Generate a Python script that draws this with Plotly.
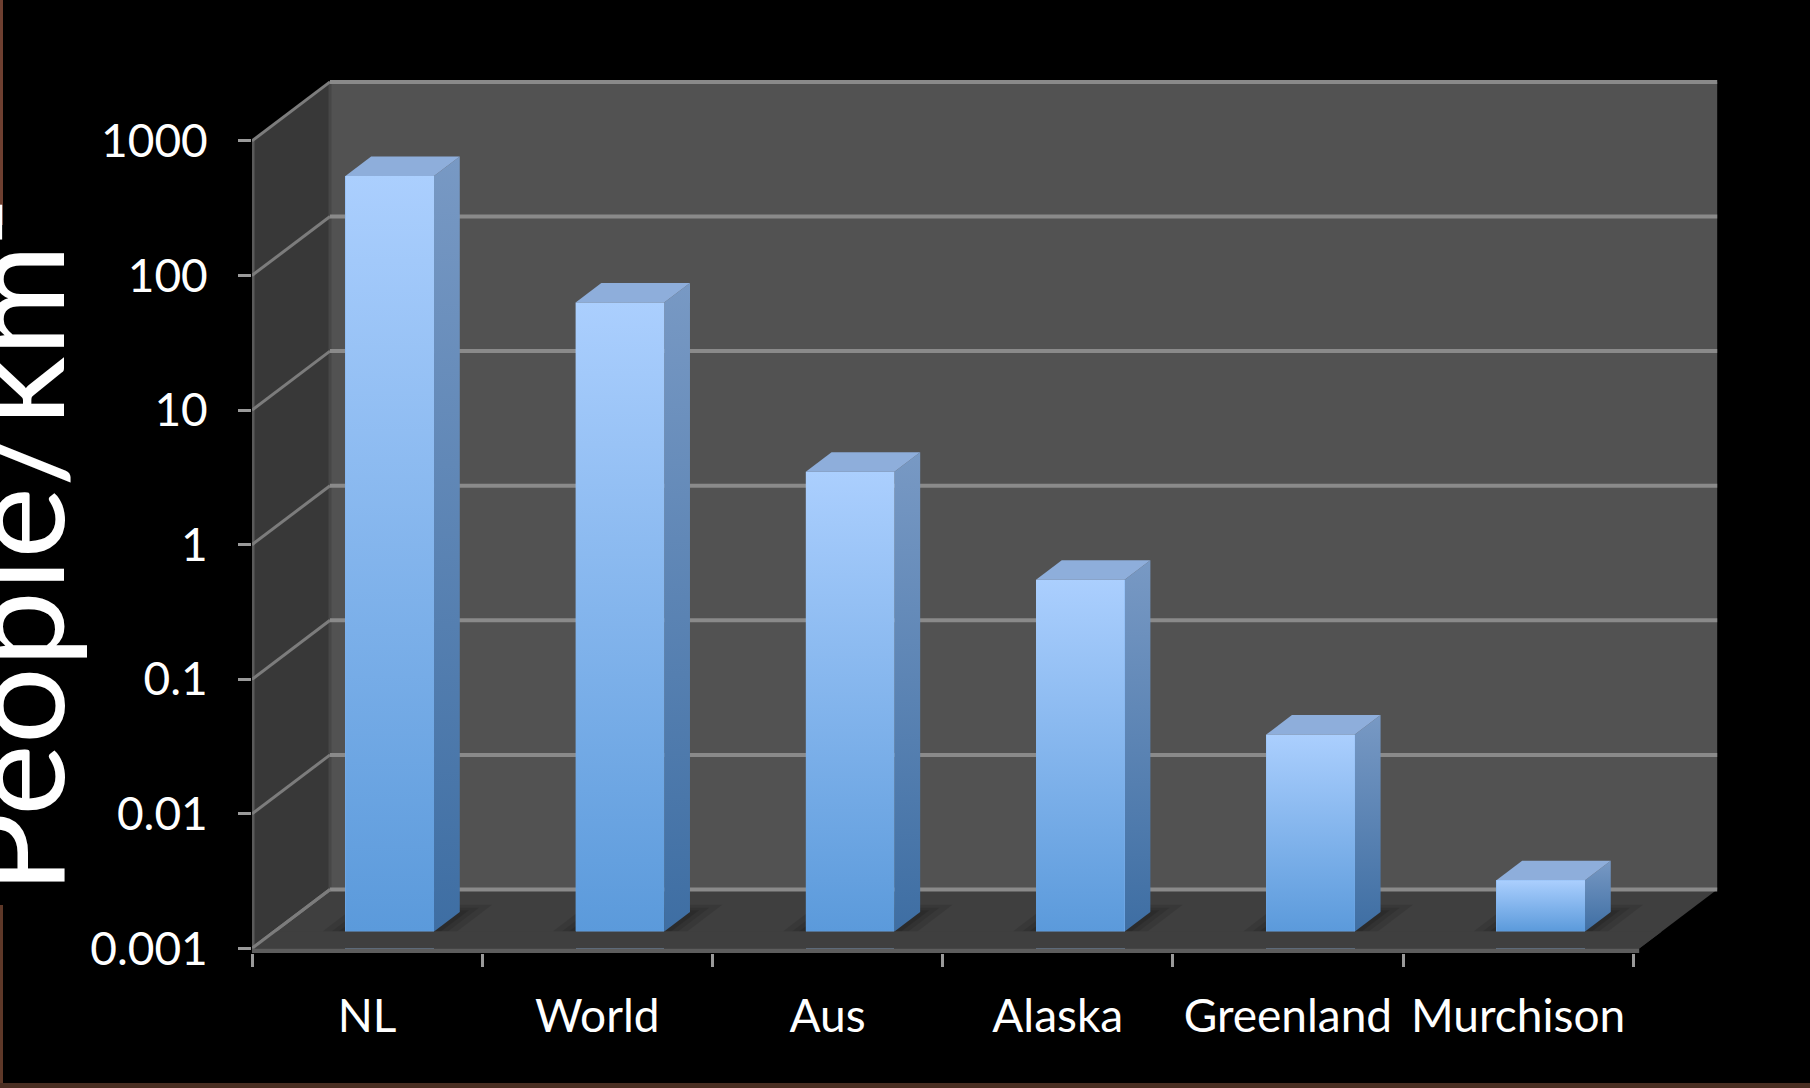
import numpy as np
import plotly.graph_objects as go

# ---------------- data ----------------
categories = ["NL", "World", "Aus", "Alaska", "Greenland", "Murchison"]
density = [410, 47, 2.6, 0.41, 0.029, 0.0024]
tick_values = [0.001, 0.01, 0.1, 1, 10, 100, 1000]
tick_labels = ["0.001", "0.01", "0.1", "1", "10", "100", "1000"]
y_title = "People/km²"

# ---------------- geometry (pixels of the 1810x1088 page) ----------------
W, H = 1810, 1088
PX_L, PX_R, PY_T, PY_B = 252, 1722, 76, 953
CAT_PX = 230.2        # width of one category on the front plane
FLOOR_PY = 948.5      # pixel row of the lowest tick on the front plane
DEC_PX = 134.6        # pixels per decade
DEPTH_DX, DEPTH_DY = 78.0, 59.0   # oblique offset of the back wall

LMIN = np.log10(tick_values[0])
LMAX = np.log10(tick_values[-1])
DXC = DEPTH_DX / CAT_PX
DYD = DEPTH_DY / DEC_PX
XR = [-0.5, -0.5 + (PX_R - PX_L) / CAT_PX]
YR = [LMIN - (PY_B - FLOOR_PY) / DEC_PX, LMIN + (FLOOR_PY - PY_T) / DEC_PX]
N = len(categories)
XEND = N - 0.5 + 6 / CAT_PX

TB, BD, BW = 0.29, 0.33, 0.385   # bar front depth, bar depth, bar width

FONT = "Lato"
BACK, SIDE, FLOOR, SLAB = "#525252", "#383838", "#3f3f3f", "#5d5d5d"
GRID, EDGE, TICK = "#8a8a8a", "#5a5a5a", "#9a9a9a"
FRONT_GRAD = ["#5b9adb", "#abcffe"]
SIDE_GRAD = ["#3e6ea3", "#7899c4"]
TOP_COL = "#8eaedb"


def P(c, L, t):
    """category position c, log value L, depth t -> front-plane data coords"""
    return c + t * DXC, 10 ** (L + t * DYD)


traces = []


def add_poly(pts, color=None, grad=None, z=0):
    xy = [P(*p) for p in pts]
    xs = [a for a, _ in xy] + [xy[0][0]]
    ys = [b for _, b in xy] + [xy[0][1]]
    kw = dict(x=xs, y=ys, mode="lines", fill="toself", line=dict(width=0),
              xaxis="x2", yaxis="y2", hoverinfo="skip", showlegend=False, zorder=z)
    if grad:
        kw["fillgradient"] = dict(type="vertical", colorscale=[[0, grad[0]], [1, grad[1]]])
    else:
        kw["fillcolor"] = color
    traces.append(go.Scatter(**kw))


def add_line(pts, color, width, z=0):
    xy = [P(*p) for p in pts]
    traces.append(go.Scatter(x=[a for a, _ in xy], y=[b for _, b in xy], mode="lines",
                             line=dict(color=color, width=width),
                             xaxis="x2", yaxis="y2", hoverinfo="skip",
                             showlegend=False, zorder=z))


# walls
add_poly([(-0.5, LMIN, 0), (XEND, LMIN, 0), (XEND, LMIN, 1), (-0.5, LMIN, 1)], FLOOR)
add_poly([(-0.5, LMIN, 1), (XEND, LMIN, 1), (XEND, LMAX, 1), (-0.5, LMAX, 1)], BACK)
add_poly([(-0.5, LMIN, 0), (-0.5, LMIN, 1), (-0.5, LMAX, 1), (-0.5, LMAX, 0)], SIDE)
add_line([(-0.5, LMIN, 0), (-0.5, LMAX, 0)], EDGE, 5)
add_line([(-0.5, LMIN, 1), (-0.5, LMAX, 1)], "#474747", 3)
for tv in tick_values:
    L = np.log10(tv)
    add_line([(-0.5, L, 0), (-0.5, L, 1)], "#7c7c7c", 3)
    add_line([(-0.5, L, 1), (XEND, L, 1)], GRID, 4)

# soft shadows on the floor
for i in range(N):
    cl, cr = i - BW / 2, i + BW / 2
    for ex, ed, a in [(0.10, 0.12, 0.10), (0.06, 0.07, 0.10), (0.03, 0.03, 0.12)]:
        add_poly([(cl - ex, LMIN, TB), (cr + ex, LMIN, TB),
                  (cr + ex, LMIN, TB + BD + ed), (cl - ex, LMIN, TB + BD + ed)],
                 f"rgba(0,0,0,{a})", z=1)

# side and top faces of the columns
for i, v in enumerate(density):
    L = np.log10(v)
    cl, cr = i - BW / 2, i + BW / 2
    add_poly([(cr, LMIN, TB), (cr, L, TB), (cr, L, TB + BD), (cr, LMIN, TB + BD)],
             grad=SIDE_GRAD, z=2)
    add_poly([(cl, L, TB), (cr, L, TB), (cr, L, TB + BD), (cl, L, TB + BD)],
             TOP_COL, z=2)

# the bars themselves (bar plane axes)
traces.append(go.Bar(x=categories, y=density, xaxis="x", yaxis="y",
                     width=BW, offset=-BW / 2 + TB * DXC,
                     marker=dict(color="#7fb2ee", line=dict(width=0)),
                     showlegend=False, zorder=3))

# gradient shading on the front faces
for i, v in enumerate(density):
    L = np.log10(v)
    cl, cr = i - BW / 2, i + BW / 2
    add_poly([(cl, LMIN, TB), (cr, LMIN, TB), (cr, L, TB), (cl, L, TB)],
             grad=FRONT_GRAD, z=4)

# floor in front of the columns and the floor slab edge
add_poly([(-0.5, LMIN, 0), (XEND, LMIN, 0), (XEND, LMIN, TB), (-0.5, LMIN, TB)], FLOOR, z=5)
add_line([(-0.5, LMIN, 0), (-0.5, LMIN, 1)], "#7c7c7c", 3, z=5)
s = 7 / DEC_PX
add_poly([(-0.5, LMIN - s, 0), (XEND, LMIN - s, 0), (XEND, LMIN, 0), (-0.5, LMIN, 0)], SLAB, z=5)

fig = go.Figure(traces)

fig.update_layout(
    width=W, height=H, template="none",
    paper_bgcolor="black", plot_bgcolor="black",
    margin=dict(l=0, r=0, t=0, b=0),
    bargap=0, showlegend=False,
    font=dict(family=FONT, color="white", size=46),
    xaxis=dict(type="category", domain=[PX_L / W, PX_R / W], range=XR, anchor="y",
               tickson="boundaries", ticks="outside", ticklen=13, tickwidth=3,
               tickcolor=TICK, showgrid=False, zeroline=False, showline=False,
               tickfont=dict(family=FONT, size=46, color="white"),
               ticklabelstandoff=32, automargin=False),
    xaxis2=dict(type="linear", overlaying="x", range=XR, visible=False),
    yaxis=dict(type="log", domain=[1 - PY_B / H, 1 - PY_T / H],
               range=[YR[0] - TB * DYD, YR[1] - TB * DYD], anchor="x",
               visible=False),
    yaxis2=dict(type="log", overlaying="y", range=YR, anchor="x", side="left",
                tickvals=tick_values, ticktext=tick_labels,
                ticks="outside", ticklen=13, tickwidth=3, tickcolor=TICK,
                showgrid=False, zeroline=False, showline=False,
                tickfont=dict(family=FONT, size=46, color="white"),
                ticklabelstandoff=21, automargin=False),
    annotations=[dict(text=y_title, textangle=-90, xref="paper", yref="paper",
                      x=11 / W, y=1 - 547 / H, xanchor="center", yanchor="middle",
                      showarrow=False, font=dict(family=FONT, size=136, color="white"))],
    shapes=[
        dict(type="rect", xref="paper", yref="paper", x0=0, x1=3 / W,
             y0=1 - 225 / H, y1=1, fillcolor="#6e3f30", line=dict(width=0), layer="above"),
        dict(type="rect", xref="paper", yref="paper", x0=0, x1=3 / W,
             y0=0, y1=1 - 905 / H, fillcolor="#5e3828", line=dict(width=0), layer="above"),
        dict(type="rect", xref="paper", yref="paper", x0=0, x1=1,
             y0=0, y1=5 / H, fillcolor="#4a2e22", line=dict(width=0), layer="above"),
    ],
)

fig.write_html("out.html")
